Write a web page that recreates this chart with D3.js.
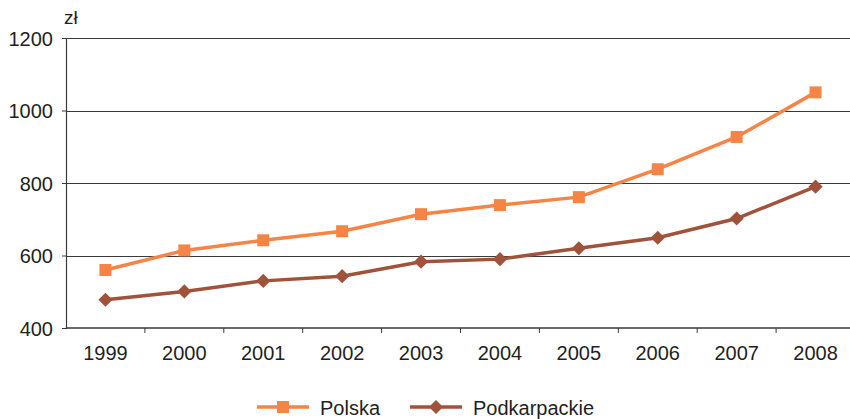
<!DOCTYPE html>
<html lang="pl">
<head>
<meta charset="UTF-8">
<title>Polska / Podkarpackie</title>
<style>
  body { margin: 0; background: #fff; }
  text { font-family: "Liberation Sans", Arial, sans-serif; fill: #231f20; }
</style>
</head>
<body>
<div id="chart"></div>
<script src="https://d3js.org/d3.v7.min.js"></script>
<script>
// data
const years = ["1999", "2000", "2001", "2002", "2003", "2004", "2005", "2006", "2007", "2008"];
const polska = [560, 614, 642, 667, 714, 739, 761, 838, 927, 1050];
const podkarpackie = [478, 501, 530, 543, 583, 590, 620, 649, 702, 790];
const yTicks = [400, 600, 800, 1000, 1200];
const seriesNames = ["Polska", "Podkarpackie"];
const seriesColors = ["#f68445", "#a0523a"];

const W = 850, H = 419;
const margin = {top: 38, right: -5, bottom: 91, left: 66};
const w = W - margin.left - margin.right, h = H - margin.top - margin.bottom;

const svg = d3.select("#chart").append("svg")
  .attr("width", W).attr("height", H);
const g = svg.append("g")
  .attr("transform", "translate(" + margin.left + "," + margin.top + ")");

const x = d3.scaleBand().domain(years).range([0, w]);
const y = d3.scaleLinear().domain([400, 1200]).range([h, 0]);

// gridlines
g.append("g").selectAll("line")
  .data(yTicks.slice(1))
  .enter().append("line")
  .attr("x1", 0).attr("x2", W - margin.left)
  .attr("y1", d => Math.round(y(d)) + 0.5).attr("y2", d => Math.round(y(d)) + 0.5)
  .attr("stroke", "#3a3a3a").attr("stroke-width", 1.2);

// y axis
const yAxis = g.append("g")
  .call(d3.axisLeft(y).tickValues(yTicks).tickSize(4).tickPadding(9).tickFormat(d3.format("d")));
yAxis.select(".domain").attr("stroke", "#3a3a3a").attr("stroke-width", 1.2);
yAxis.selectAll(".tick line").attr("stroke", "#3a3a3a");
yAxis.selectAll("text").attr("font-size", 20).attr("fill", "#231f20").attr("dy", "0.35em")
  .style("font-family", "'Liberation Sans', Arial, sans-serif");

// x axis (ticks at band boundaries)
const xAxis = g.append("g").attr("transform", "translate(0," + h + ")");
xAxis.append("line").attr("x1", 0).attr("x2", W - margin.left)
  .attr("stroke", "#3a3a3a").attr("stroke-width", 1.5);
xAxis.selectAll(".bt").data(years.slice(1))
  .enter().append("line")
  .attr("x1", d => x(d)).attr("x2", d => x(d))
  .attr("y1", 0).attr("y2", 5).attr("stroke", "#3a3a3a");
xAxis.selectAll(".lbl").data(years)
  .enter().append("text")
  .attr("x", d => x(d) + x.bandwidth() / 2).attr("y", 32)
  .attr("text-anchor", "middle").attr("font-size", 20)
  .text(d => d);

// unit label
g.append("text").attr("x", -2).attr("y", -14).attr("font-size", 19).text("zł");

const line = d3.line().x((d, i) => x(years[i]) + x.bandwidth() / 2).y(d => y(d));
const square = d3.symbol().type(d3.symbolSquare).size(144);
const diamond = d3.symbol().type(d3.symbolSquare).size(100);

function marker(sel, s) {
  sel.attr("d", s === 0 ? square : diamond).attr("fill", seriesColors[s]);
}

[polska, podkarpackie].forEach((vals, s) => {
  g.append("path").datum(vals)
    .attr("d", line).attr("fill", "none")
    .attr("stroke", seriesColors[s]).attr("stroke-width", 3.5);
  g.selectAll(".m" + s).data(vals)
    .enter().append("path")
    .attr("transform", (d, i) => "translate(" + (x(years[i]) + x.bandwidth() / 2) + "," + y(d) + ")" +
      (s === 1 ? " rotate(45)" : ""))
    .call(marker, s);
});

// legend
const legendX = [257, 410];
const legend = svg.append("g");
seriesNames.forEach((name, s) => {
  const lg = legend.append("g").attr("transform", "translate(" + legendX[s] + ",407)");
  lg.append("line").attr("x1", 0).attr("x2", 52)
    .attr("stroke", seriesColors[s]).attr("stroke-width", 3.5);
  lg.append("path").attr("transform", "translate(26,0)" + (s === 1 ? " rotate(45)" : ""))
    .call(marker, s);
  lg.append("text").attr("x", 63).attr("y", 8).attr("font-size", 20).text(name);
});
</script>
</body>
</html>
